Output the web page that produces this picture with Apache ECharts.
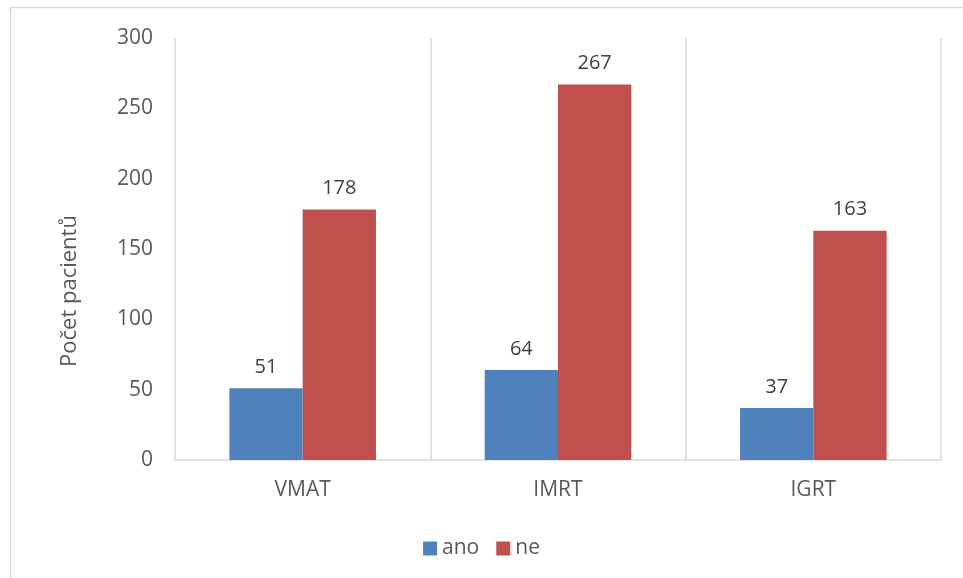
<!DOCTYPE html>
<html>
<head>
<meta charset="utf-8">
<script src="https://cdn.jsdelivr.net/npm/echarts@6/dist/echarts.min.js"></script>
<style>
  html, body { margin: 0; padding: 0; background: #fff; }
  #chart { width: 963px; height: 578px; }
</style>
</head>
<body>
<div id="chart"></div>
<script>
// Počet pacientů podle techniky ozařování
const categories = ['VMAT', 'IMRT', 'IGRT'];
const seriesNames = ['ano', 'ne'];
const anoValues = [51, 64, 37];
const neValues = [178, 267, 163];
const yTicks = [0, 50, 100, 150, 200, 250, 300];

const FONT = '"Open Sans", "Noto Sans", sans-serif';
const TEXT = '#595959';
const LINE = '#d9d9d9';

const chart = echarts.init(document.getElementById('chart'), null, { renderer: 'canvas' });

const labelStyle = {
  show: true,
  position: 'top',
  distance: 11,
  color: '#404040',
  fontFamily: FONT,
  fontSize: 20
};

chart.setOption({
  animation: false,
  backgroundColor: '#fff',
  grid: { left: 175, right: 22, top: 38, bottom: 118, containLabel: false },
  legend: {
    data: seriesNames,
    top: 533,
    left: 'center',
    itemWidth: 14,
    itemHeight: 14,
    itemGap: 17,
    icon: 'rect',
    textStyle: { color: TEXT, fontFamily: FONT, fontSize: 21, padding: [0, 0, 0, 0] }
  },
  xAxis: {
    type: 'category',
    data: categories,
    axisLine: { show: true, lineStyle: { color: LINE, width: 1.5 } },
    axisTick: { show: false },
    splitLine: { show: true, lineStyle: { color: LINE, width: 1.5 } },
    axisLabel: { color: TEXT, fontFamily: FONT, fontSize: 21, margin: 20 }
  },
  yAxis: {
    type: 'value',
    min: yTicks[0],
    max: yTicks[yTicks.length - 1],
    interval: yTicks[1] - yTicks[0],
    axisLine: { show: false },
    axisTick: { show: false },
    splitLine: { show: false },
    axisLabel: { color: TEXT, fontFamily: FONT, fontSize: 21, margin: 22 }
  },
  series: [
    {
      name: seriesNames[0],
      type: 'bar',
      data: anoValues,
      itemStyle: { color: '#4f81bd' },
      barGap: '0%',
      barCategoryGap: '42.6%',
      label: labelStyle
    },
    {
      name: seriesNames[1],
      type: 'bar',
      data: neValues,
      itemStyle: { color: '#c0504d' },
      barGap: '0%',
      barCategoryGap: '42.6%',
      label: labelStyle
    }
  ],
  graphic: [
    {
      type: 'rect',
      silent: true,
      shape: { x: 10.5, y: 7.5, width: 970, height: 600 },
      style: { fill: 'none', stroke: '#d9d9d9', lineWidth: 1.5 }
    },
    {
      type: 'text',
      silent: true,
      x: 70,
      y: 291,
      rotation: Math.PI / 2,
      style: {
        text: 'Počet pacientů',
        fill: TEXT,
        font: '22px ' + FONT,
        align: 'center',
        verticalAlign: 'middle'
      }
    }
  ]
});
</script>
</body>
</html>
